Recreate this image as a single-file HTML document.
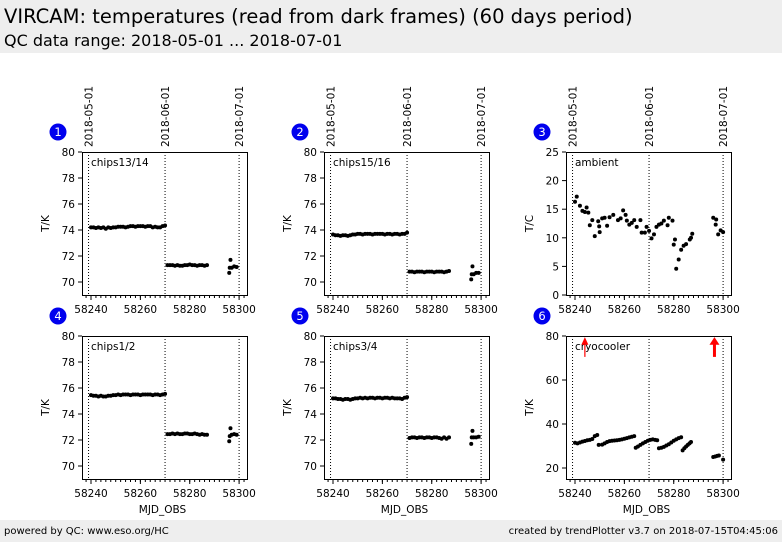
<!DOCTYPE html>
<html><head><meta charset="utf-8">
<style>
body{margin:0;width:782px;height:542px;background:#fff;font-family:"DejaVu Sans","Liberation Sans",sans-serif;overflow:hidden;position:relative}
.hdr{position:absolute;left:0;top:0;width:782px;height:53px;background:#eeeeee}
.t1{position:absolute;left:4px;top:5px;font-size:19.5px;color:#000;white-space:nowrap}
.t2{position:absolute;left:4px;top:31px;font-size:16px;color:#000;white-space:nowrap}
.ftr{position:absolute;left:0;top:520px;width:782px;height:22px;background:#eeeeee;font-size:10px}
.fl{position:absolute;left:4px;top:6px}.fr{position:absolute;right:4px;top:6px}
svg{position:absolute;left:0;top:0;font-family:"DejaVu Sans","Liberation Sans",sans-serif}
</style></head><body>
<div class="hdr">
<div class="t1">VIRCAM: temperatures (read from dark frames) (60 days period)</div>
<div class="t2">QC data range: 2018-05-01 ... 2018-07-01</div>
</div>
<svg id="c" width="782" height="542"></svg>
<div class="ftr">
<span class="fl">powered by QC: www.eso.org/HC</span>
<span class="fr">created by trendPlotter v3.7 on 2018-07-15T04:45:06</span>
</div>
<script>
const chipDays=[58240,58241,58242,58243,58244,58245,58246,58247,58248,58249,58250,58251,58252,58253,58254,58255,58256,58257,58258,58259,58260,58261,58262,58263,58264,58265,58266,58267,58268,58269,58270,
58271,58272,58273,58274,58275,58276,58277,58278,58279,58280,58281,58282,58283,58284,58285,58286,58287,
58296,58296.2,58296.5,58297,58298,58299];
const chip1314=[74.2,74.2,74.15,74.2,74.15,74.2,74.1,74.2,74.15,74.2,74.2,74.25,74.25,74.25,74.2,74.25,74.3,74.3,74.25,74.3,74.3,74.3,74.25,74.3,74.3,74.2,74.25,74.2,74.2,74.3,74.35,
71.3,71.3,71.3,71.25,71.3,71.25,71.25,71.3,71.3,71.35,71.3,71.3,71.25,71.3,71.3,71.25,71.3,
70.7,71.1,71.7,71.1,71.2,71.15];
const chip1516=[73.65,73.6,73.6,73.55,73.6,73.6,73.55,73.6,73.65,73.65,73.7,73.7,73.65,73.7,73.7,73.7,73.65,73.7,73.7,73.7,73.7,73.65,73.7,73.7,73.65,73.7,73.7,73.65,73.7,73.7,73.8,
70.8,70.8,70.75,70.8,70.8,70.8,70.75,70.8,70.8,70.8,70.75,70.8,70.8,70.8,70.75,70.8,70.85,
70.2,70.6,71.2,70.6,70.7,70.7];
const chip12=[75.45,75.4,75.4,75.35,75.4,75.35,75.35,75.4,75.4,75.45,75.45,75.5,75.45,75.5,75.5,75.5,75.45,75.5,75.5,75.5,75.45,75.5,75.5,75.5,75.5,75.45,75.5,75.5,75.45,75.5,75.55,
72.45,72.45,72.5,72.45,72.5,72.45,72.45,72.5,72.5,72.45,72.45,72.5,72.45,72.4,72.45,72.4,72.4,
71.9,72.3,72.9,72.4,72.45,72.4];
const chip34=[75.2,75.2,75.15,75.15,75.1,75.15,75.15,75.1,75.15,75.2,75.2,75.25,75.2,75.25,75.2,75.25,75.25,75.2,75.25,75.25,75.2,75.25,75.25,75.2,75.25,75.2,75.2,75.2,75.15,75.25,75.3,
72.15,72.2,72.2,72.15,72.2,72.2,72.15,72.2,72.2,72.15,72.2,72.2,72.15,72.1,72.2,72.1,72.2,
71.7,72.2,72.7,72.2,72.2,72.25];
const ambDays=[58240,58240.7,58242,58243,58244,58244.7,58245.4,58246,58247,58248,58249.4,58249.8,58250,58251,58252,58253,58254,58255.5,58257.4,58258.5,58259.5,58260.5,58261,58262,58263,58264,58265,58266.5,58267,58268.3,58269,58270,58271,58272,58273,58274,58275,58276,58277.5,58278,58279.5,58280,58280.5,58281,58282,58283,58284,58285,58286.5,58287,58287.5,58296,58297,58297.2,58298,58299,58300];
const ambVals=[16.3,17.2,15.6,14.7,14.5,15.3,14.4,12.2,13.1,10.3,12.9,12.0,11.0,13.4,13.5,12.1,13.6,14.0,13.1,13.4,14.8,14.0,13.0,12.3,12.6,13.1,11.9,13.1,10.9,10.9,11.9,11.2,9.9,10.6,11.9,12.3,12.5,13.0,12.2,13.5,13.0,8.8,9.7,4.6,6.2,7.9,8.6,8.9,9.7,10.0,10.7,13.5,12.3,13.2,10.6,11.3,11.0];
const cryoDays=[58240,58241,58242,58243,58244,58245,58246,58247,58248,58249,
58249.6,58251,58252,58253,58254,58255,58256,58257,58258,58259,58260,58261,58262,58263,58264,
58264.6,58265.5,58266.5,58267.5,58268.5,58269.5,58270.5,58271.5,58272.5,58273.3,
58274,58275,58276,58277,58278,58279,58280,58281,58282,58283,
58283.6,58284.3,58285,58285.7,58286.4,58287,
58296,58296.8,58297.6,58298.3,58300];
const cryoVals=[31.5,31.2,31.6,32.0,32.3,32.6,32.8,33.2,34.5,35.0,
30.5,30.6,31.2,31.8,32.2,32.4,32.5,32.6,32.8,33.0,33.3,33.6,33.9,34.2,34.5,
29.2,29.8,30.5,31.2,31.8,32.4,32.8,33.0,32.8,32.6,
29.0,29.2,29.6,30.2,30.8,31.6,32.4,33.0,33.6,34.0,
28.0,29.0,29.8,30.5,31.2,31.8,
25.0,25.2,25.5,25.7,23.8];
const arrowDays=[58244,58296.5];
const xTicks=[58240,58260,58280,58300];
const dateLines=[58239,58270,58300];
const dateLabels=['2018-05-01','2018-06-01','2018-07-01'];

const svg=document.getElementById('c');
const NS='http://www.w3.org/2000/svg';
function mk(t,a,p){const e=document.createElementNS(NS,t);for(const k in a)e.setAttribute(k,a[k]);(p||svg).appendChild(e);return e;}
const X0=58236.35,X1=58303.2;
const panels=[
 {n:'1',x:82,y:152,lab:'chips13/14',yl:'T/K',ymin:69,ymax:80,ticks:[70,72,74,76,78,80],d:chipDays,v:chip1314,top:true},
 {n:'2',x:324,y:152,lab:'chips15/16',yl:'T/K',ymin:69,ymax:80,ticks:[70,72,74,76,78,80],d:chipDays,v:chip1516,top:true},
 {n:'3',x:566,y:152,lab:'ambient',yl:'T/C',ymin:0,ymax:25,ticks:[0,5,10,15,20,25],d:ambDays,v:ambVals,top:true},
 {n:'4',x:82,y:336,lab:'chips1/2',yl:'T/K',ymin:69,ymax:80,ticks:[70,72,74,76,78,80],d:chipDays,v:chip12},
 {n:'5',x:324,y:336,lab:'chips3/4',yl:'T/K',ymin:69,ymax:80,ticks:[70,72,74,76,78,80],d:chipDays,v:chip34},
 {n:'6',x:566,y:336,lab:'cryocooler',yl:'T/K',ymin:15,ymax:80,ticks:[20,40,60,80],d:cryoDays,v:cryoVals,arrows:true},
];
const W=165,H=143;
panels.forEach(p=>{
 const g=mk('g',{});
 
 
 const sx=d=>p.x+(d-X0)/(X1-X0)*W;
 const sy=v=>p.y+H-(v-p.ymin)/(p.ymax-p.ymin)*H;
 dateLines.forEach((d,i)=>{
  const l=mk('line',{x1:sx(d),x2:sx(d),y1:p.y,y2:p.y+H,stroke:'#000','stroke-width':1,'stroke-dasharray':'1,2'},g);
  
  
  if(p.top){
   const tx=sx(d)+4,ty=p.y-5;
   const t=mk('text',{x:tx,y:ty,transform:`rotate(-90 ${tx} ${ty})`,'font-size':10.5},g);
   t.textContent=dateLabels[i];
   
   
  }
 });
 const fr=mk('rect',{x:p.x+0.5,y:p.y+0.5,width:W,height:H,fill:'none',stroke:'#000','stroke-width':1},g);
 
 
 for(let d=58238;d<=58302;d+=2){mk('line',{x1:sx(d),x2:sx(d),y1:p.y+H,y2:p.y+H+3,stroke:'#000'},g);}
 xTicks.forEach(d=>{
  mk('line',{x1:sx(d),x2:sx(d),y1:p.y+H,y2:p.y+H+5,stroke:'#000'},g);
  const t=mk('text',{x:sx(d),y:p.y+H+18,'text-anchor':'middle','font-size':10.5},g);
  t.textContent=d;
  
  
 });
 p.ticks.forEach(v=>{
  mk('line',{x1:p.x-4,x2:p.x,y1:sy(v),y2:sy(v),stroke:'#000'},g);
  const t=mk('text',{x:p.x-7,y:sy(v)+4,'text-anchor':'end','font-size':10.5},g);
  t.textContent=v;
  
  
 });
 const yl=mk('text',{x:p.x-33,y:p.y+H/2,transform:`rotate(-90 ${p.x-33} ${p.y+H/2})`,'text-anchor':'middle','font-size':10.5},g);
 yl.textContent=p.yl;
 
 
 if(!p.top){
  const xl=mk('text',{x:p.x+W/2-2,y:p.y+H+34,'text-anchor':'middle','font-size':10.5},g);
  xl.textContent='MJD_OBS';
  
  
 }
 const lb=mk('text',{x:p.x+9,y:p.y+14,'font-size':10.5},g);
 lb.textContent=p.lab;
 
 
 const c=mk('circle',{cx:p.x-24,cy:p.y-20,r:8.5,fill:'#0000ee'},g);
 
 
 const ct=mk('text',{x:p.x-24,y:p.y-16,'text-anchor':'middle','font-size':11.5,fill:'#fff'},g);
 ct.textContent=p.n;
 
 
 p.d.forEach((d,i)=>{
  const pt=mk('circle',{cx:sx(d),cy:sy(p.v[i]),r:2,fill:'#000'},g);
  
  
 });
 if(p.arrows){
  arrowDays.forEach((d,i)=>{
   const w=i?3:1.2,hw=i?5:3.5;
   const a=mk('line',{x1:sx(d),x2:sx(d),y1:sy(70.5),y2:sy(77),stroke:'#ff0000','stroke-width':w},g);
   
   
   mk('polygon',{points:`${sx(d)-hw},${sy(76)} ${sx(d)+hw},${sy(76)} ${sx(d)},${sy(79.5)}`,fill:'#ff0000'},g);
  });
 }
});
</script>
</body></html>
